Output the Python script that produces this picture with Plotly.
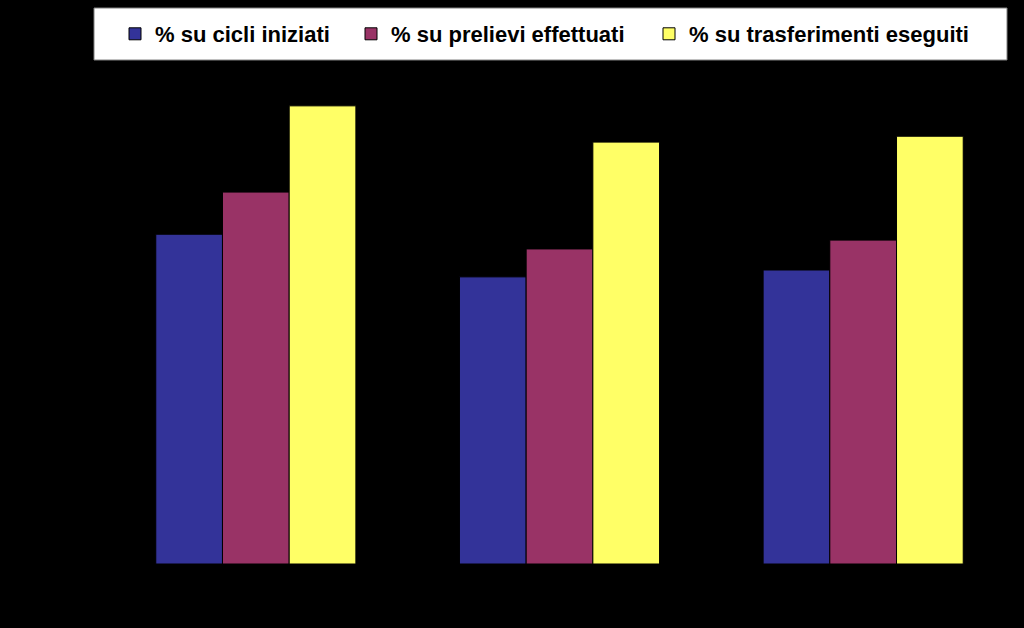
import plotly.graph_objects as go

categories = ["Gruppo A", "Gruppo B", "Gruppo C"]
series_names = ["% su cicli iniziati", "% su prelievi effettuati", "% su trasferimenti eseguiti"]
cicli = [67.3, 58.6, 60.0]
prelievi = [75.9, 64.3, 66.1]
trasferimenti = [93.5, 86.1, 87.3]
colors = ["#333399", "#993366", "#FFFF66"]

L, R, T, B = 104, 9, 74, 64
W, H = 1024, 628
pw, ph = W - L - R, H - T - B

def px_x(x):
    return (x - L) / pw

def px_y(y):
    return (H - B - y) / ph

legend_left = [115, 351, 649]
legend_keys = ["legend", "legend2", "legend3"]

fig = go.Figure()
for name, vals, col, lk in zip(series_names, [cicli, prelievi, trasferimenti], colors, legend_keys):
    fig.add_trace(go.Bar(
        x=categories, y=vals, name=name, legend=lk,
        marker=dict(color=col, line=dict(color="black", width=1)),
    ))

legend_font = dict(family="Liberation Sans, Arial, sans-serif", size=22, color="black", weight="bold")
layout_legends = {}
for lk, lx in zip(legend_keys, legend_left):
    layout_legends[lk] = dict(
        x=px_x(lx), xanchor="left", y=px_y(34), yanchor="middle",
        xref="paper", yref="paper",
        bgcolor="rgba(0,0,0,0)", borderwidth=0,
        font=legend_font, itemclick=False, itemdoubleclick=False,
    )

fig.update_layout(
    width=W, height=H,
    paper_bgcolor="black", plot_bgcolor="black",
    margin=dict(l=L, r=R, t=T, b=B),
    barmode="group", bargap=0.341, bargroupgap=0.0,
    showlegend=True,
    xaxis=dict(showgrid=False, zeroline=False, showline=False, showticklabels=True,
               tickfont=dict(color="black"), fixedrange=True),
    yaxis=dict(range=[0, 100], showgrid=False, zeroline=False, showline=False,
               showticklabels=True, tickfont=dict(color="black"), fixedrange=True),
    shapes=[dict(type="rect", xref="paper", yref="paper",
                 x0=px_x(94), x1=px_x(1007), y0=px_y(60), y1=px_y(8),
                 fillcolor="white", line=dict(color="#808080", width=1), layer="below")],
    **layout_legends,
)

fig.write_html("out.html", config={"displayModeBar": False},
               post_script="document.body.style.margin='0';")
